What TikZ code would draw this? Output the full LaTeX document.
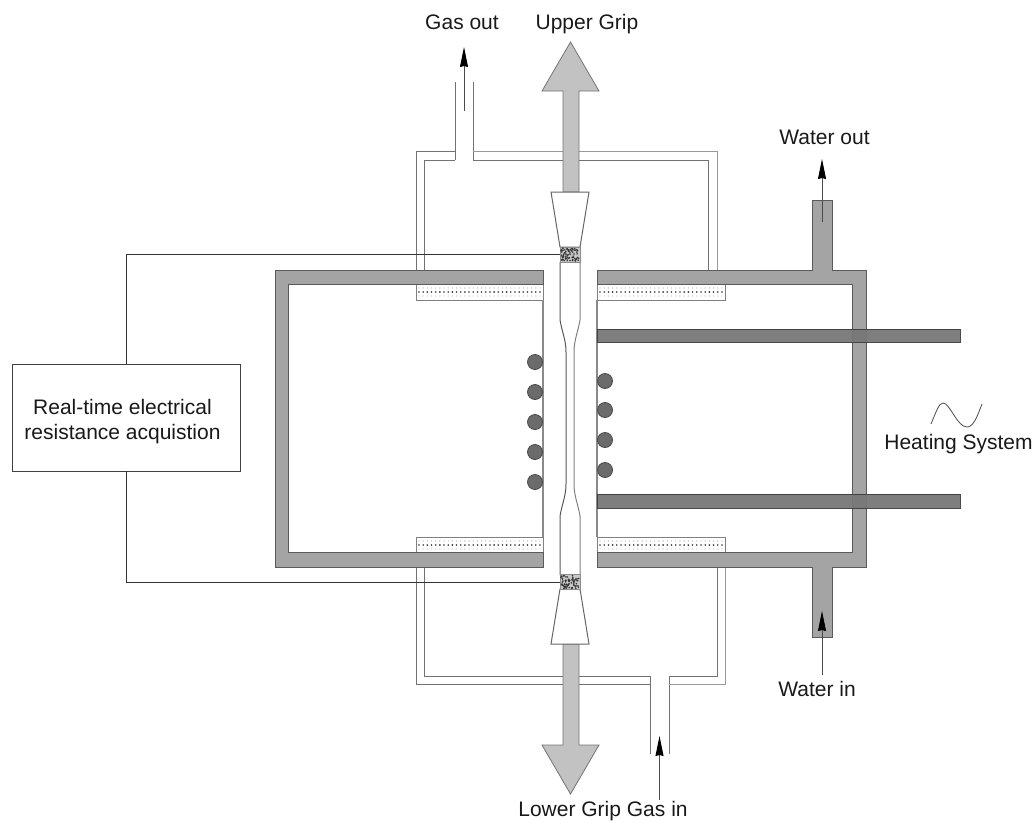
\documentclass[tikz,border=0pt]{standalone}
\usepackage{fontspec}
\setmainfont{Liberation Sans}
\usetikzlibrary{arrows.meta}
\definecolor{jacket}{HTML}{A4A4A4}
\definecolor{jacketedge}{HTML}{5A5A5A}
\definecolor{heater}{HTML}{777777}
\definecolor{grip}{HTML}{C2C2C2}
\definecolor{wallc}{HTML}{8A8A8A}
\tikzset{
  x=1pt,y=-1pt,
  lbl/.style={font=\fontsize{21}{25}\selectfont,inner sep=0pt,text=black!90,anchor=base},
  jacketfill/.style={fill=jacket,draw=jacketedge,line width=0.9pt},
  heaterbar/.style={fill=heater,draw=black!75,line width=0.8pt,opacity=0.95},
  gas/.style={draw=black!55,line width=0.9pt},
  wall/.style={draw=wallc,line width=1.3pt},
  gripfill/.style={fill=grip,draw=black!55,line width=0.8pt},
  wedge/.style={fill=white,draw=black!60,line width=1pt},
  sample/.style={draw=black!65,line width=1pt},
  wire/.style={draw=black!80,line width=0.8pt},
  coil/.style={circle,minimum size=15pt,inner sep=0pt,fill=black!58,draw=black!72,line width=0.8pt},
  pad/.style={draw=black!50,line width=0.8pt,fill=white},
  flow/.style={draw=black!70,line width=0.9pt,-{Stealth[length=20pt,width=8pt,inset=1pt,black]}},
  specbox/.style={rectangle,inner sep=0pt,draw=black!45,line width=0.5pt,fill=black!22,minimum width=20pt,minimum height=15pt},
}
\newcommand{\dotrows}[4]{% x0, x1, y0, y1
  \foreach \px in {0,...,29}{
    \fill[black!28] ({#1+3+\px*(#2-#1-6)/29},#3) circle (0.7pt);
    \fill[black!80] ({#1+3+\px*(#2-#1-6)/29},{(#3+#4)/2}) circle (0.9pt);
    \fill[black!22] ({#1+3+\px*(#2-#1-6)/29},#4) circle (0.7pt);
  }}
\newcommand{\speck}[2]{% cx, cy
  \foreach \sp in {1,...,70}{
    \pgfmathsetmacro{\sx}{#1-9+18*rnd}
    \pgfmathsetmacro{\sy}{#2-6.5+13*rnd}
    \fill[black!80] (\sx,\sy) circle (0.9pt);
  }}
\begin{document}
\begin{tikzpicture}
\useasboundingbox (0,0) rectangle (1035,822);
\pgfmathsetseed{7}

% gas chamber, upper
\draw[gas] (416,270) -- (416,151) -- (455,151);
\draw[gas] (424,270) -- (424,160) -- (455,160);
\draw[gas] (455,82) -- (455,160);
\draw[gas] (473,82) -- (473,160);
\draw[gas] (473,160) -- (708,160) -- (708,270);
\draw[gas,draw=black!40] (473,151) -- (717,151) -- (717,270);
% gas chamber, lower
\draw[gas] (416,567) -- (416,684) -- (650,684);
\draw[gas] (424,567) -- (424,676) -- (650,676);
\draw[gas] (650,676) -- (650,754);
\draw[gas] (669,676) -- (669,754);
\draw[gas] (669,676) -- (717,676) -- (717,567);
\draw[gas,draw=black!40] (669,684) -- (725,684) -- (725,567);

% insulating pads
\draw[pad] (416,284) rectangle (543,300);
\draw[pad] (597,284) rectangle (725,300);
\draw[pad] (416,537) rectangle (543,552);
\draw[pad] (597,537) rectangle (725,552);
\dotrows{416}{543}{288}{296}
\dotrows{597}{725}{288}{296}
\dotrows{416}{543}{541}{549}
\dotrows{597}{725}{541}{549}

% chamber walls
\draw[wall] (543,300) -- (543,537);
\draw[wall] (597,300) -- (597,537);

% water jacket
\draw[jacketfill] (543,270) -- (275,270) -- (275,567) -- (543,567) -- (543,552)
  -- (288,552) -- (288,284) -- (543,284) -- cycle;
\draw[jacketfill] (597,270) -- (812,270) -- (812,200) -- (832,200) -- (832,270)
  -- (866,270) -- (866,567) -- (832,567) -- (832,637) -- (812,637) -- (812,567)
  -- (597,567) -- (597,552) -- (852,552) -- (852,284) -- (597,284) -- cycle;

% heating elements
\draw[heaterbar] (597,329) rectangle (960,342);
\draw[heaterbar] (597,494) rectangle (960,508);

% sample
\draw[sample] (560,262) -- (560,320) .. controls (562,332) and (566,340) .. (566,352)
  -- (566,484) .. controls (566,496) and (562,504) .. (560,516) -- (560,575);
\draw[sample,draw=black!50] (580,262) -- (580,320) .. controls (578,332) and (574,340) .. (574,352)
  -- (574,484) .. controls (574,496) and (578,504) .. (580,516) -- (580,575);

% grips
\draw[gripfill] (563,192) -- (563,91) -- (542,91) -- (570.5,42) -- (599,91) -- (579,91) -- (579,192) -- cycle;
\draw[gripfill] (563,644) -- (563,745) -- (542,745) -- (570.5,794) -- (599,745) -- (579,745) -- (579,644) -- cycle;
\draw[wedge] (551,192) -- (589,192) -- (580,247) -- (560,247) -- cycle;
\draw[wedge] (551,644) -- (589,644) -- (580,589) -- (560,589) -- cycle;

% contacts
\node[specbox] (contactTop) at (570,254.5) {};
\node[specbox] (contactBottom) at (570,582) {};
\speck{570}{254.5}
\speck{570}{582}

% coils
\foreach \cy [count=\ci] in {362,392,422,452,482}{
  \node[coil] (coilL\ci) at (535,\cy) {};
}
\foreach \cy [count=\ci] in {381,410,440,470}{
  \node[coil] (coilR\ci) at (605,\cy) {};
}

% acquisition box
\node[draw=black!75,line width=0.9pt,fill=white,minimum width=228pt,minimum height=107pt,
  inner sep=0pt] (daq) at (126,417.5) {};
\node[align=center,inner sep=0pt,font=\fontsize{21}{25}\selectfont,text=black!90] (daqText) at (122.5,421.5)
  {Real-time electrical\\resistance acquistion};
\draw[wire] (daq.north) |- (contactTop.west);
\draw[wire] (daq.south) |- (contactBottom.west);

% flow arrows
\coordinate (gasOutA) at (464,111);
\coordinate (gasOutB) at (464,47);
\coordinate (gasInA) at (659.5,800);
\coordinate (gasInB) at (659.5,736);
\coordinate (waterOutA) at (822,222);
\coordinate (waterOutB) at (822,159);
\coordinate (waterInA) at (822,675);
\coordinate (waterInB) at (822,611);
\draw[flow] (gasOutA) -- (gasOutB);
\draw[flow] (gasInA) -- (gasInB);
\draw[flow] (waterOutA) -- (waterOutB);
\draw[flow] (waterInA) -- (waterInB);

% AC symbol
\draw[draw=black!70,line width=0.8pt] (931,424) .. controls (936,412) and (939,403) .. (943,403)
  .. controls (950,403) and (957,427) .. (967,427) .. controls (974,427) and (978,414) .. (982,404);

% labels
\node[lbl] (lGasOut) at (462,29) {Gas out};
\node[lbl] (lUpper) at (587,29) {Upper Grip};
\node[lbl] (lWaterOut) at (824.5,144) {Water out};
\node[lbl] (lHeat) at (958.5,449) {Heating System};
\node[lbl] (lWaterIn) at (817,696) {Water in};
\node[lbl] (lLower) at (603,816.5) {Lower Grip Gas in};
\end{tikzpicture}
\end{document}
